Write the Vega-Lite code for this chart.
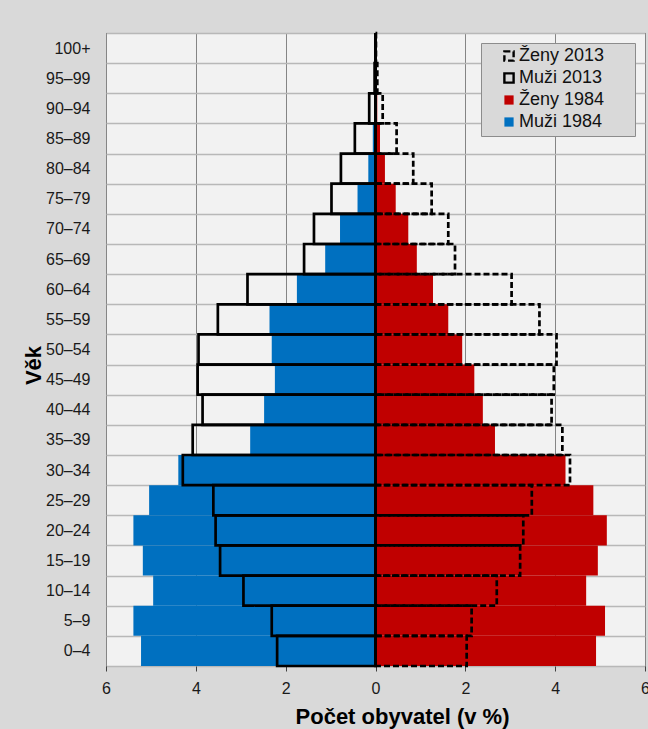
{
  "$schema": "https://vega.github.io/schema/vega-lite/v6.json",
  "width": 539,
  "height": 633,
  "autosize": {"type": "none"},
  "padding": {"left": 106, "top": 33, "right": 3, "bottom": 63},
  "background": "#d9d9d9",
  "config": {
    "font": "Liberation Sans",
    "view": {"fill": "#f2f2f2", "stroke": "#000000", "strokeWidth": 1},
    "legend": {
      "orient": "top-right",
      "offset": 10,
      "fillColor": "#d9d9d9",
      "strokeColor": "#8c8c8c",
      "padding": 4,
      "labelFontSize": 18,
      "labelColor": "#111111",
      "symbolSize": 85,
      "symbolStrokeWidth": 2.4,
      "symbolType": "square",
      "rowPadding": 2,
      "symbolOffset": 15,
      "labelOffset": 1
    }
  },
  "data": {
    "values": [
      {"age": "0–4", "series": "Muži 1984", "year": 1984, "value": -5.22},
      {"age": "5–9", "series": "Muži 1984", "year": 1984, "value": -5.39},
      {"age": "10–14", "series": "Muži 1984", "year": 1984, "value": -4.95},
      {"age": "15–19", "series": "Muži 1984", "year": 1984, "value": -5.18},
      {"age": "20–24", "series": "Muži 1984", "year": 1984, "value": -5.39},
      {"age": "25–29", "series": "Muži 1984", "year": 1984, "value": -5.04},
      {"age": "30–34", "series": "Muži 1984", "year": 1984, "value": -4.39},
      {"age": "35–39", "series": "Muži 1984", "year": 1984, "value": -2.79},
      {"age": "40–44", "series": "Muži 1984", "year": 1984, "value": -2.48},
      {"age": "45–49", "series": "Muži 1984", "year": 1984, "value": -2.24},
      {"age": "50–54", "series": "Muži 1984", "year": 1984, "value": -2.31},
      {"age": "55–59", "series": "Muži 1984", "year": 1984, "value": -2.36},
      {"age": "60–64", "series": "Muži 1984", "year": 1984, "value": -1.75},
      {"age": "65–69", "series": "Muži 1984", "year": 1984, "value": -1.12},
      {"age": "70–74", "series": "Muži 1984", "year": 1984, "value": -0.79},
      {"age": "75–79", "series": "Muži 1984", "year": 1984, "value": -0.4},
      {"age": "80–84", "series": "Muži 1984", "year": 1984, "value": -0.16},
      {"age": "85–89", "series": "Muži 1984", "year": 1984, "value": -0.06},
      {"age": "90–94", "series": "Muži 1984", "year": 1984, "value": -0.02},
      {"age": "95–99", "series": "Muži 1984", "year": 1984, "value": -0.005},
      {"age": "100+", "series": "Muži 1984", "year": 1984, "value": 0},
      {"age": "0–4", "series": "Ženy 1984", "year": 1984, "value": 4.91},
      {"age": "5–9", "series": "Ženy 1984", "year": 1984, "value": 5.11},
      {"age": "10–14", "series": "Ženy 1984", "year": 1984, "value": 4.69},
      {"age": "15–19", "series": "Ženy 1984", "year": 1984, "value": 4.95},
      {"age": "20–24", "series": "Ženy 1984", "year": 1984, "value": 5.15},
      {"age": "25–29", "series": "Ženy 1984", "year": 1984, "value": 4.85},
      {"age": "30–34", "series": "Ženy 1984", "year": 1984, "value": 4.23},
      {"age": "35–39", "series": "Ženy 1984", "year": 1984, "value": 2.66},
      {"age": "40–44", "series": "Ženy 1984", "year": 1984, "value": 2.39},
      {"age": "45–49", "series": "Ženy 1984", "year": 1984, "value": 2.2},
      {"age": "50–54", "series": "Ženy 1984", "year": 1984, "value": 1.93},
      {"age": "55–59", "series": "Ženy 1984", "year": 1984, "value": 1.62},
      {"age": "60–64", "series": "Ženy 1984", "year": 1984, "value": 1.28},
      {"age": "65–69", "series": "Ženy 1984", "year": 1984, "value": 0.92},
      {"age": "70–74", "series": "Ženy 1984", "year": 1984, "value": 0.73},
      {"age": "75–79", "series": "Ženy 1984", "year": 1984, "value": 0.45},
      {"age": "80–84", "series": "Ženy 1984", "year": 1984, "value": 0.21},
      {"age": "85–89", "series": "Ženy 1984", "year": 1984, "value": 0.1},
      {"age": "90–94", "series": "Ženy 1984", "year": 1984, "value": 0.04},
      {"age": "95–99", "series": "Ženy 1984", "year": 1984, "value": 0.01},
      {"age": "100+", "series": "Ženy 1984", "year": 1984, "value": 0},
      {"age": "0–4", "series": "Muži 2013", "year": 2013, "value": -2.19},
      {"age": "5–9", "series": "Muži 2013", "year": 2013, "value": -2.31},
      {"age": "10–14", "series": "Muži 2013", "year": 2013, "value": -2.94},
      {"age": "15–19", "series": "Muži 2013", "year": 2013, "value": -3.46},
      {"age": "20–24", "series": "Muži 2013", "year": 2013, "value": -3.56},
      {"age": "25–29", "series": "Muži 2013", "year": 2013, "value": -3.61},
      {"age": "30–34", "series": "Muži 2013", "year": 2013, "value": -4.29},
      {"age": "35–39", "series": "Muži 2013", "year": 2013, "value": -4.07},
      {"age": "40–44", "series": "Muži 2013", "year": 2013, "value": -3.85},
      {"age": "45–49", "series": "Muži 2013", "year": 2013, "value": -3.96},
      {"age": "50–54", "series": "Muži 2013", "year": 2013, "value": -3.94},
      {"age": "55–59", "series": "Muži 2013", "year": 2013, "value": -3.51},
      {"age": "60–64", "series": "Muži 2013", "year": 2013, "value": -2.85},
      {"age": "65–69", "series": "Muži 2013", "year": 2013, "value": -1.59},
      {"age": "70–74", "series": "Muži 2013", "year": 2013, "value": -1.37},
      {"age": "75–79", "series": "Muži 2013", "year": 2013, "value": -0.98},
      {"age": "80–84", "series": "Muži 2013", "year": 2013, "value": -0.77},
      {"age": "85–89", "series": "Muži 2013", "year": 2013, "value": -0.46},
      {"age": "90–94", "series": "Muži 2013", "year": 2013, "value": -0.14},
      {"age": "95–99", "series": "Muži 2013", "year": 2013, "value": -0.02},
      {"age": "100+", "series": "Muži 2013", "year": 2013, "value": 0},
      {"age": "0–4", "series": "Ženy 2013", "year": 2013, "value": 2.03},
      {"age": "5–9", "series": "Ženy 2013", "year": 2013, "value": 2.14},
      {"age": "10–14", "series": "Ženy 2013", "year": 2013, "value": 2.7},
      {"age": "15–19", "series": "Ženy 2013", "year": 2013, "value": 3.22},
      {"age": "20–24", "series": "Ženy 2013", "year": 2013, "value": 3.29},
      {"age": "25–29", "series": "Ženy 2013", "year": 2013, "value": 3.48},
      {"age": "30–34", "series": "Ženy 2013", "year": 2013, "value": 4.33},
      {"age": "35–39", "series": "Ženy 2013", "year": 2013, "value": 4.16},
      {"age": "40–44", "series": "Ženy 2013", "year": 2013, "value": 3.92},
      {"age": "45–49", "series": "Ženy 2013", "year": 2013, "value": 3.97},
      {"age": "50–54", "series": "Ženy 2013", "year": 2013, "value": 4.03},
      {"age": "55–59", "series": "Ženy 2013", "year": 2013, "value": 3.65},
      {"age": "60–64", "series": "Ženy 2013", "year": 2013, "value": 3.03},
      {"age": "65–69", "series": "Ženy 2013", "year": 2013, "value": 1.77},
      {"age": "70–74", "series": "Ženy 2013", "year": 2013, "value": 1.62},
      {"age": "75–79", "series": "Ženy 2013", "year": 2013, "value": 1.25},
      {"age": "80–84", "series": "Ženy 2013", "year": 2013, "value": 0.84},
      {"age": "85–89", "series": "Ženy 2013", "year": 2013, "value": 0.47},
      {"age": "90–94", "series": "Ženy 2013", "year": 2013, "value": 0.16},
      {"age": "95–99", "series": "Ženy 2013", "year": 2013, "value": 0.04},
      {"age": "100+", "series": "Ženy 2013", "year": 2013, "value": 0.01}
    ]
  },
  "encoding": {
    "y": {
      "field": "age",
      "type": "nominal",
      "sort": ["100+", "95–99", "90–94", "85–89", "80–84", "75–79", "70–74", "65–69", "60–64", "55–59", "50–54", "45–49", "40–44", "35–39", "30–34", "25–29", "20–24", "15–19", "10–14", "5–9", "0–4"],
      "scale": {"paddingInner": 0, "paddingOuter": 0},
      "title": "Věk",
      "axis": {
        "grid": true,
        "tickBand": "extent",
        "gridColor": "#b8b8b8",
        "gridWidth": 1.5,
        "ticks": false,
        "tickSize": 0,
        "domain": false,
        "labelFontSize": 16,
        "labelColor": "#1a1a1a",
        "labelPadding": 16,
        "titleFontSize": 22,
        "titleFontWeight": "bold",
        "titleColor": "#000000",
        "titleX": -66,
        "titleY": 332,
        "titleBaseline": "alphabetic",
        "titleAlign": "center"
      }
    },
    "x": {
      "field": "value",
      "type": "quantitative",
      "scale": {"domain": [-6, 6], "nice": false},
      "title": "Počet obyvatel (v %)",
      "axis": {
        "values": [-6, -4, -2, 0, 2, 4, 6],
        "labelExpr": "format(abs(datum.value), 'd')",
        "grid": true,
        "gridColor": "#858585",
        "gridWidth": 1,
        "domain": false,
        "ticks": true,
        "tickSize": 5,
        "tickColor": "#404040",
        "labelFontSize": 16,
        "labelColor": "#1a1a1a",
        "labelPadding": 9,
        "labelFlush": false,
        "titleFontSize": 22,
        "titleFontWeight": "bold",
        "titleColor": "#000000",
        "titleX": 296,
        "titleY": 57,
        "titleBaseline": "alphabetic",
        "titleAlign": "center"
      }
    }
  },
  "layer": [
    {
      "transform": [{"filter": "datum.year == 1984"}],
      "mark": {"type": "bar"},
      "encoding": {
        "fill": {
          "field": "series",
          "type": "nominal",
          "scale": {"domain": ["Ženy 2013", "Muži 2013", "Ženy 1984", "Muži 1984"], "range": ["transparent", "transparent", "#c00000", "#0070c0"]},
          "legend": {"title": null, "labelExpr": "datum.label + '\u2800\u2800'"}
        },
        "stroke": {
          "field": "series",
          "type": "nominal",
          "scale": {"domain": ["Ženy 2013", "Muži 2013", "Ženy 1984", "Muži 1984"], "range": ["#000000", "#000000", "transparent", "transparent"]},
          "legend": {"title": null, "labelExpr": "datum.label + '\u2800\u2800'"}
        },
        "strokeDash": {
          "field": "series",
          "type": "nominal",
          "scale": {"domain": ["Ženy 2013", "Muži 2013", "Ženy 1984", "Muži 1984"], "range": [[6, 3], [1, 0], [1, 0], [1, 0]]},
          "legend": {"title": null, "labelExpr": "datum.label + '\u2800\u2800'"}
        }
      }
    },
    {
      "transform": [{"filter": "datum.year == 2013"}],
      "mark": {"type": "bar", "strokeWidth": 2.7},
      "encoding": {
        "fill": {"field": "series", "type": "nominal", "legend": {"title": null, "labelExpr": "datum.label + '\u2800\u2800'"}},
        "stroke": {"field": "series", "type": "nominal", "legend": {"title": null, "labelExpr": "datum.label + '\u2800\u2800'"}},
        "strokeDash": {"field": "series", "type": "nominal", "legend": {"title": null, "labelExpr": "datum.label + '\u2800\u2800'"}}
      }
    },
    {
      "data": {"values": [{"zero": 0}]},
      "mark": {"type": "rule", "color": "#000000", "strokeWidth": 3},
      "encoding": {"x": {"field": "zero", "type": "quantitative"}, "y": null}
    }
  ]
}
